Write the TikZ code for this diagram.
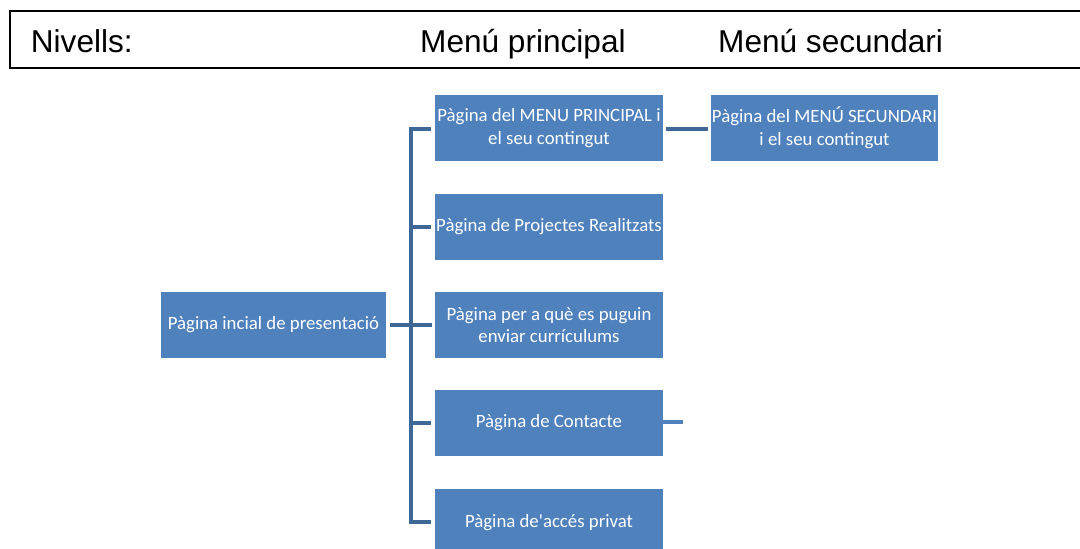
\documentclass[tikz,border=0pt]{standalone}
\usepackage{fontspec}
\setmainfont{Liberation Sans}
\newfontfamily\boxfont{Carlito}
\definecolor{boxblue}{HTML}{4F81BD}
\definecolor{linkblue}{HTML}{3F6897}
\begin{document}
\begin{tikzpicture}[x=1pt,y=-1pt,
  pagebox/.style={fill=boxblue, draw=none, inner sep=0pt, minimum width=228pt, minimum height=66pt,
    text=white, align=center, font=\boxfont\fontsize{18.8}{22.5}\selectfont},
  hdr/.style={anchor=base west, inner sep=0pt, font=\fontsize{31.6}{36}\selectfont},
  link/.style={draw=linkblue, line width=4pt, line join=miter, line cap=butt},
  stub/.style={draw=boxblue, line width=4pt}]
\useasboundingbox (0,0) rectangle (1080,549);
\fill[white] (0,0) rectangle (1080,549);
% header
\draw[line width=2pt] (1080,11) -- (9.5,11) -- (9.5,68) -- (1080,68);
\node[hdr] (hlev) at (30.7,52) {Nivells:};
\node[hdr] (hmain) at (420,52) {Menú principal};
\node[hdr] (hsec) at (718,52) {Menú secundari};
% boxes
\node[pagebox, minimum width=225pt] (start) at (273.5,325) {Pàgina incial de presentació};
\node[pagebox] (m1) at (549,128) {Pàgina del MENU PRINCIPAL i\\el seu contingut};
\node[pagebox] (m2) at (549,226.5) {Pàgina de Projectes Realitzats};
\node[pagebox] (m3) at (549,325) {Pàgina per a què es puguin\\enviar currículums};
\node[pagebox] (m4) at (549,423) {Pàgina de Contacte};
\node[pagebox, minimum height=68pt] (m5) at (549,523) {Pàgina de'accés privat};
\node[pagebox, minimum width=227pt] (s1) at (824.5,128) {Pàgina del MENÚ SECUNDARI\\i el seu contingut};
% connectors
\coordinate (trunktop) at (411,129);
\coordinate (trunkbot) at (411,522);
\draw[link] ([xshift=-4pt]m1.west |- 0,129) -- (trunktop) -- (trunkbot) -- ([xshift=-4pt]m5.west |- trunkbot);
\draw[link] ([xshift=4pt]start.east) -- (411,325) -- ([xshift=-3pt]m3.west);
\draw[link] (411,226.5) -- ([xshift=-4pt]m2.west);
\draw[link] (411,423) -- ([xshift=-4pt]m4.west);
\draw[link] ([xshift=3pt]m1.east |- 0,129) -- ([xshift=-3pt]s1.west |- 0,129);
\coordinate (m4end) at (683,421.5);
\draw[stub] (m4.east |- m4end) -- (m4end);
\end{tikzpicture}
\end{document}
